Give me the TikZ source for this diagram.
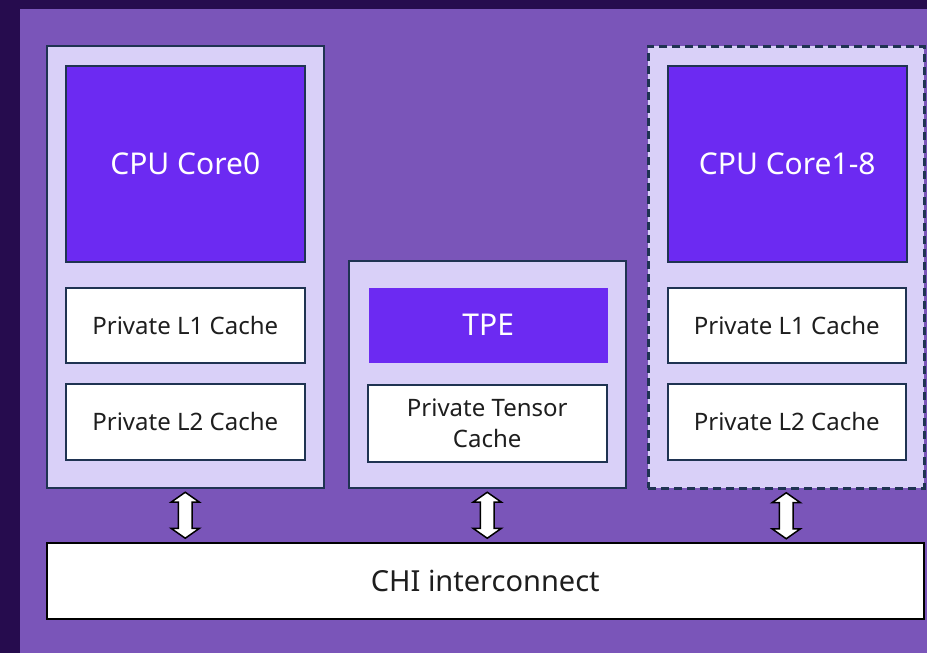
\documentclass[tikz,border=0pt]{standalone}
\usepackage{fontspec}
\setmainfont{Noto Sans}
\usetikzlibrary{shapes.arrows,calc}

\definecolor{bgdark}{HTML}{260C4E}
\definecolor{panel}{HTML}{7A55B9}
\definecolor{grouplight}{HTML}{D9D0F8}
\definecolor{corefill}{HTML}{6C2AF2}
\definecolor{edge}{HTML}{1F3352}
\definecolor{ink}{HTML}{1E1E1E}

\tikzset{
  groupbox/.style={draw=edge, line width=1.5pt, fill=grouplight,
    anchor=north west, inner sep=0pt},
  corebox/.style={draw=edge, line width=1.5pt, fill=corefill, text=white,
    anchor=north west, font=\fontsize{30}{34}\selectfont},
  cachebox/.style={draw=edge, line width=1.5pt, fill=white, text=ink,
    anchor=north west, align=center, font=\fontsize{24}{31}\selectfont},
  busarrow/.style={double arrow, draw=black, line width=1.5pt, fill=white,
    rotate=90, minimum height=46pt, minimum width=28pt,
    inner xsep=0pt, inner ysep=6pt,
    double arrow head extend=7pt, double arrow tip angle=110}
}

\begin{document}
\begin{tikzpicture}[x=1pt,y=-1pt]
  % Background and panel
  \fill[bgdark] (0,0) rectangle (927,653);
  \fill[panel] (20,9) rectangle (927,653);
  \useasboundingbox (0,0) rectangle (927,653);

  % Core 0
  \node[groupbox, minimum width=277pt, minimum height=442pt] (grp0) at (46,45) {};
  \node[corebox, minimum width=239pt, minimum height=196pt] (core0) at (65,65) {CPU Core0};
  \node[cachebox, minimum width=239pt, minimum height=75pt] (l1a) at (65,287) {Private L1 Cache};
  \node[cachebox, minimum width=239pt, minimum height=76pt] (l2a) at (65,383) {Private L2 Cache};

  % Tensor engine
  \node[groupbox, minimum width=277pt, minimum height=227pt] (grptpe) at (348,260) {};
  \node[corebox, draw=none, minimum width=239pt, minimum height=75pt] (tpe) at (368,287) {TPE};
  \node[cachebox, minimum width=239pt, minimum height=77pt] (tcache) at (367,384) {Private Tensor\\Cache};

  % Cores 1-8
  \node[groupbox, line width=2.5pt, dash pattern=on 8pt off 5pt,
    minimum width=276pt, minimum height=442pt] (grp1) at (647,45) {};
  \node[corebox, minimum width=239pt, minimum height=196pt] (core1) at (667,65) {CPU Core1-8};
  \node[cachebox, minimum width=238pt, minimum height=75pt] (l1b) at (667,287) {Private L1 Cache};
  \node[cachebox, minimum width=238pt, minimum height=76pt] (l2b) at (667,383) {Private L2 Cache};

  % Interconnect
  \node[cachebox, draw=black, minimum width=877pt, minimum height=76pt,
    font=\fontsize{29}{34}\selectfont] (chi) at (46,542) {CHI interconnect};

  % Links to the bus
  \node[busarrow] (link0) at ($(grp0.south)!0.5!(grp0.south |- chi.north)$) {};
  \node[busarrow] (linktpe) at ($(grptpe.south)!0.5!(grptpe.south |- chi.north)$) {};
  \node[busarrow] (link1) at ($(grp1.south)!0.5!(grp1.south |- chi.north)$) {};
\end{tikzpicture}
\end{document}
